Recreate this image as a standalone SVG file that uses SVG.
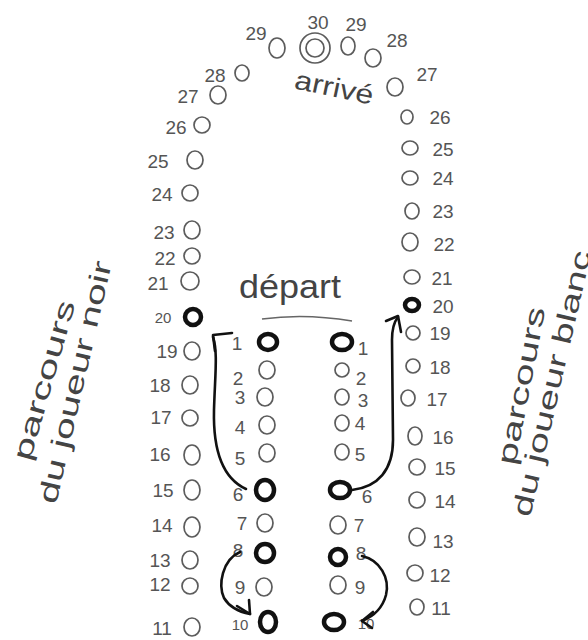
<svg xmlns="http://www.w3.org/2000/svg" width="588" height="640" viewBox="0 0 588 640">
<style>
.c{fill:none;stroke:#5c5c5c;stroke-width:1.7}
.b{fill:none;stroke:#111;stroke-width:4.5}
.n{font-family:"Liberation Sans",sans-serif;font-size:19px;fill:#555;text-anchor:middle}
.s{font-size:15px}
.t{font-family:"Liberation Sans",sans-serif;fill:#444}
.a{fill:none;stroke:#111;stroke-width:2.6;stroke-linecap:round;stroke-linejoin:round}
</style>
<rect width="588" height="640" fill="#fff"/>
<!-- top -->
<g id="n28L"><ellipse class="c" cx="242" cy="73" rx="7" ry="8"/><text class="n" x="215" y="82">28</text></g>
<g id="n27L"><ellipse class="c" cx="218" cy="95" rx="8" ry="9"/><text class="n" x="188" y="103">27</text></g>
<g id="n26L"><ellipse class="c" cx="202" cy="125" rx="8" ry="8"/><text class="n" x="176" y="134">26</text></g>
<g id="n25L"><ellipse class="c" cx="195" cy="160" rx="8" ry="9"/><text class="n" x="158" y="168">25</text></g>
<g id="n24L"><ellipse class="c" cx="190" cy="193" rx="8" ry="8"/><text class="n" x="162" y="201">24</text></g>
<g id="n23L"><ellipse class="c" cx="192" cy="230" rx="8" ry="9"/><text class="n" x="164" y="239">23</text></g>
<g id="n22L"><ellipse class="c" cx="192" cy="256" rx="8" ry="8"/><text class="n" x="165" y="265">22</text></g>
<g id="n21L"><ellipse class="c" cx="190" cy="281" rx="9" ry="9"/><text class="n" x="158" y="290">21</text></g>
<g id="n20L"><ellipse class="b" cx="193" cy="317" rx="8" ry="8"/><text class="n s" x="163" y="323">20</text></g>
<g id="n19L"><ellipse class="c" cx="192" cy="351" rx="8" ry="9"/><text class="n" x="167" y="358">19</text></g>
<g id="n18L"><ellipse class="c" cx="190" cy="385" rx="8" ry="9"/><text class="n" x="160" y="392">18</text></g>
<g id="n17L"><ellipse class="c" cx="190" cy="418" rx="8" ry="8"/><text class="n" x="161" y="424">17</text></g>
<g id="n16L"><ellipse class="c" cx="192" cy="455" rx="8" ry="10"/><text class="n" x="160" y="461">16</text></g>
<g id="n15L"><ellipse class="c" cx="192" cy="490" rx="8" ry="10"/><text class="n" x="163" y="497">15</text></g>
<g id="n14L"><ellipse class="c" cx="192" cy="527" rx="8" ry="10"/><text class="n" x="162" y="532">14</text></g>
<g id="n13L"><ellipse class="c" cx="190" cy="560" rx="8" ry="9"/><text class="n" x="160" y="567">13</text></g>
<g id="n12L"><ellipse class="c" cx="190" cy="586" rx="8" ry="8"/><text class="n" x="160" y="591">12</text></g>
<g id="n11L"><ellipse class="c" cx="192" cy="627" rx="8" ry="9"/><text class="n" x="162" y="635">11</text></g>
<g id="n29L"><ellipse class="c" cx="277" cy="48" rx="8" ry="10"/><text class="n" x="256" y="40">29</text></g>
<g id="n30"><circle class="c" cx="315" cy="48" r="15"/><circle class="c" cx="315" cy="48" r="9"/><text class="n" x="318" y="29">30</text></g>
<g id="n29R"><ellipse class="c" cx="348" cy="46" rx="7" ry="9"/><text class="n" x="356" y="31">29</text></g>
<g id="n28R"><ellipse class="c" cx="373" cy="58" rx="8" ry="9"/><text class="n" x="397" y="47">28</text></g>
<g id="n27R"><ellipse class="c" cx="395" cy="87" rx="8" ry="9"/><text class="n" x="427" y="81">27</text></g>
<g id="n26R"><ellipse class="c" cx="407" cy="117" rx="6" ry="7"/><text class="n" x="440" y="124">26</text></g>
<g id="n25R"><ellipse class="c" cx="410" cy="148" rx="8" ry="7"/><text class="n" x="443" y="156">25</text></g>
<g id="n24R"><ellipse class="c" cx="410" cy="178" rx="8" ry="7"/><text class="n" x="443" y="185">24</text></g>
<g id="n23R"><ellipse class="c" cx="412" cy="211" rx="7" ry="8"/><text class="n" x="443" y="218">23</text></g>
<g id="n22R"><ellipse class="c" cx="410" cy="242" rx="8" ry="9"/><text class="n" x="444" y="251">22</text></g>
<g id="n21R"><ellipse class="c" cx="412" cy="277" rx="8" ry="7"/><text class="n" x="442" y="285">21</text></g>
<g id="n20R"><ellipse class="b" cx="412" cy="305" rx="7" ry="6"/><text class="n" x="443" y="313">20</text></g>
<g id="n19R"><ellipse class="c" cx="413" cy="333" rx="7" ry="7"/><text class="n" x="440" y="340">19</text></g>
<g id="n18R"><ellipse class="c" cx="413" cy="366" rx="7" ry="7"/><text class="n" x="440" y="374">18</text></g>
<g id="n17R"><ellipse class="c" cx="408" cy="398" rx="7" ry="8"/><text class="n" x="437" y="406">17</text></g>
<g id="n16R"><ellipse class="c" cx="415" cy="436" rx="7" ry="9"/><text class="n" x="443" y="444">16</text></g>
<g id="n15R"><ellipse class="c" cx="417" cy="467" rx="8" ry="8"/><text class="n" x="445" y="475">15</text></g>
<g id="n14R"><ellipse class="c" cx="417" cy="500" rx="8" ry="8"/><text class="n" x="445" y="508">14</text></g>
<g id="n13R"><ellipse class="c" cx="417" cy="537" rx="8" ry="9"/><text class="n" x="443" y="548">13</text></g>
<g id="n12R"><ellipse class="c" cx="415" cy="573" rx="8" ry="8"/><text class="n" x="440" y="582">12</text></g>
<g id="n11R"><ellipse class="c" cx="417" cy="607" rx="7" ry="8"/><text class="n" x="441" y="615">11</text></g>
<!-- inner left -->
<g id="i1L"><ellipse class="b" cx="268" cy="342" rx="9" ry="8"/><text class="n" x="237" y="350">1</text></g>
<g id="i2L"><ellipse class="c" cx="267" cy="370" rx="8" ry="9"/><text class="n" x="238" y="385">2</text></g>
<g id="i3L"><ellipse class="c" cx="265" cy="397" rx="8" ry="9"/><text class="n" x="240" y="404">3</text></g>
<g id="i4L"><ellipse class="c" cx="267" cy="425" rx="8" ry="9"/><text class="n" x="240" y="434">4</text></g>
<g id="i5L"><ellipse class="c" cx="267" cy="453" rx="8" ry="9"/><text class="n" x="240" y="465">5</text></g>
<g id="i6L"><ellipse class="b" cx="265" cy="490" rx="9" ry="10"/><text class="n" x="238" y="501">6</text></g>
<g id="i7L"><ellipse class="c" cx="265" cy="523" rx="8" ry="9"/><text class="n" x="242" y="530">7</text></g>
<g id="i8L"><ellipse class="b" cx="265" cy="553" rx="9" ry="9"/><text class="n" x="238" y="557">8</text></g>
<g id="i9L"><ellipse class="c" cx="264" cy="587" rx="8" ry="9"/><text class="n" x="240" y="594">9</text></g>
<g id="i10L"><ellipse class="b" cx="268" cy="622" rx="8" ry="10"/><text class="n s" x="240" y="630">10</text></g>
<!-- inner right -->
<g id="i1R"><ellipse class="b" cx="342" cy="342" rx="10" ry="8"/><text class="n" x="363" y="355">1</text></g>
<g id="i2R"><ellipse class="c" cx="342" cy="370" rx="7" ry="7"/><text class="n" x="361" y="385">2</text></g>
<g id="i3R"><ellipse class="c" cx="342" cy="397" rx="7" ry="8"/><text class="n" x="363" y="407">3</text></g>
<g id="i4R"><ellipse class="c" cx="342" cy="423" rx="7" ry="8"/><text class="n" x="360" y="430">4</text></g>
<g id="i5R"><ellipse class="c" cx="342" cy="452" rx="7" ry="8"/><text class="n" x="360" y="461">5</text></g>
<g id="i6R"><ellipse class="b" cx="340" cy="490" rx="10" ry="8"/><text class="n" x="367" y="503">6</text></g>
<g id="i7R"><ellipse class="c" cx="338" cy="525" rx="8" ry="9"/><text class="n" x="359" y="532">7</text></g>
<g id="i8R"><ellipse class="b" cx="338" cy="557" rx="8" ry="8"/><text class="n" x="361" y="560">8</text></g>
<g id="i9R"><ellipse class="c" cx="338" cy="585" rx="8" ry="9"/><text class="n" x="360" y="594">9</text></g>
<g id="i10R"><ellipse class="b" cx="334" cy="622" rx="10" ry="8"/><text class="n s" x="366" y="629">10</text></g>
<!-- labels -->
<g id="arrive"><text class="t" x="292" y="96" font-size="27" textLength="80" lengthAdjust="spacingAndGlyphs" transform="rotate(12 330 98)">arrivé</text></g>
<g id="depart"><text class="t" x="239" y="298" font-size="33" textLength="102" lengthAdjust="spacingAndGlyphs">départ</text><path d="M262,319 Q305,313 352,321" fill="none" stroke="#666" stroke-width="1.6"/></g>
<g id="noir" class="t" font-size="27">
<text x="30" y="462" textLength="165" lengthAdjust="spacingAndGlyphs" transform="rotate(-74 30 462)">parcours</text>
<text x="56" y="505" textLength="248" lengthAdjust="spacingAndGlyphs" transform="rotate(-77 56 505)">du joueur noir</text>
</g>
<g id="blanc" class="t" font-size="27">
<text x="515" y="466" textLength="160" lengthAdjust="spacingAndGlyphs" transform="rotate(-79 515 466)">parcours</text>
<text x="530" y="518" textLength="272" lengthAdjust="spacingAndGlyphs" transform="rotate(-77 530 518)">du joueur blanc</text>
</g>
<!-- connectors -->
<g id="connectors" class="a">
<path d="M246,489 C222,478 213,450 214,410 C215,375 218,352 213,337"/>
<path d="M232,333 L213,335 L215,351"/>
<path d="M352,490 C378,487 393,470 393,440 L392,340 C392,328 394,322 398,317"/>
<path d="M386,321 L398,316 L401,332"/>
<path d="M240,552 C222,560 218,585 224,598 C230,608 240,612 250,614"/>
<path d="M237,606 L250,614 L249,600"/>
<path d="M362,556 C380,560 390,578 386,595 C382,610 372,617 362,621"/>
<path d="M373,612 L362,621 L372,628"/>
</g>
</svg>
